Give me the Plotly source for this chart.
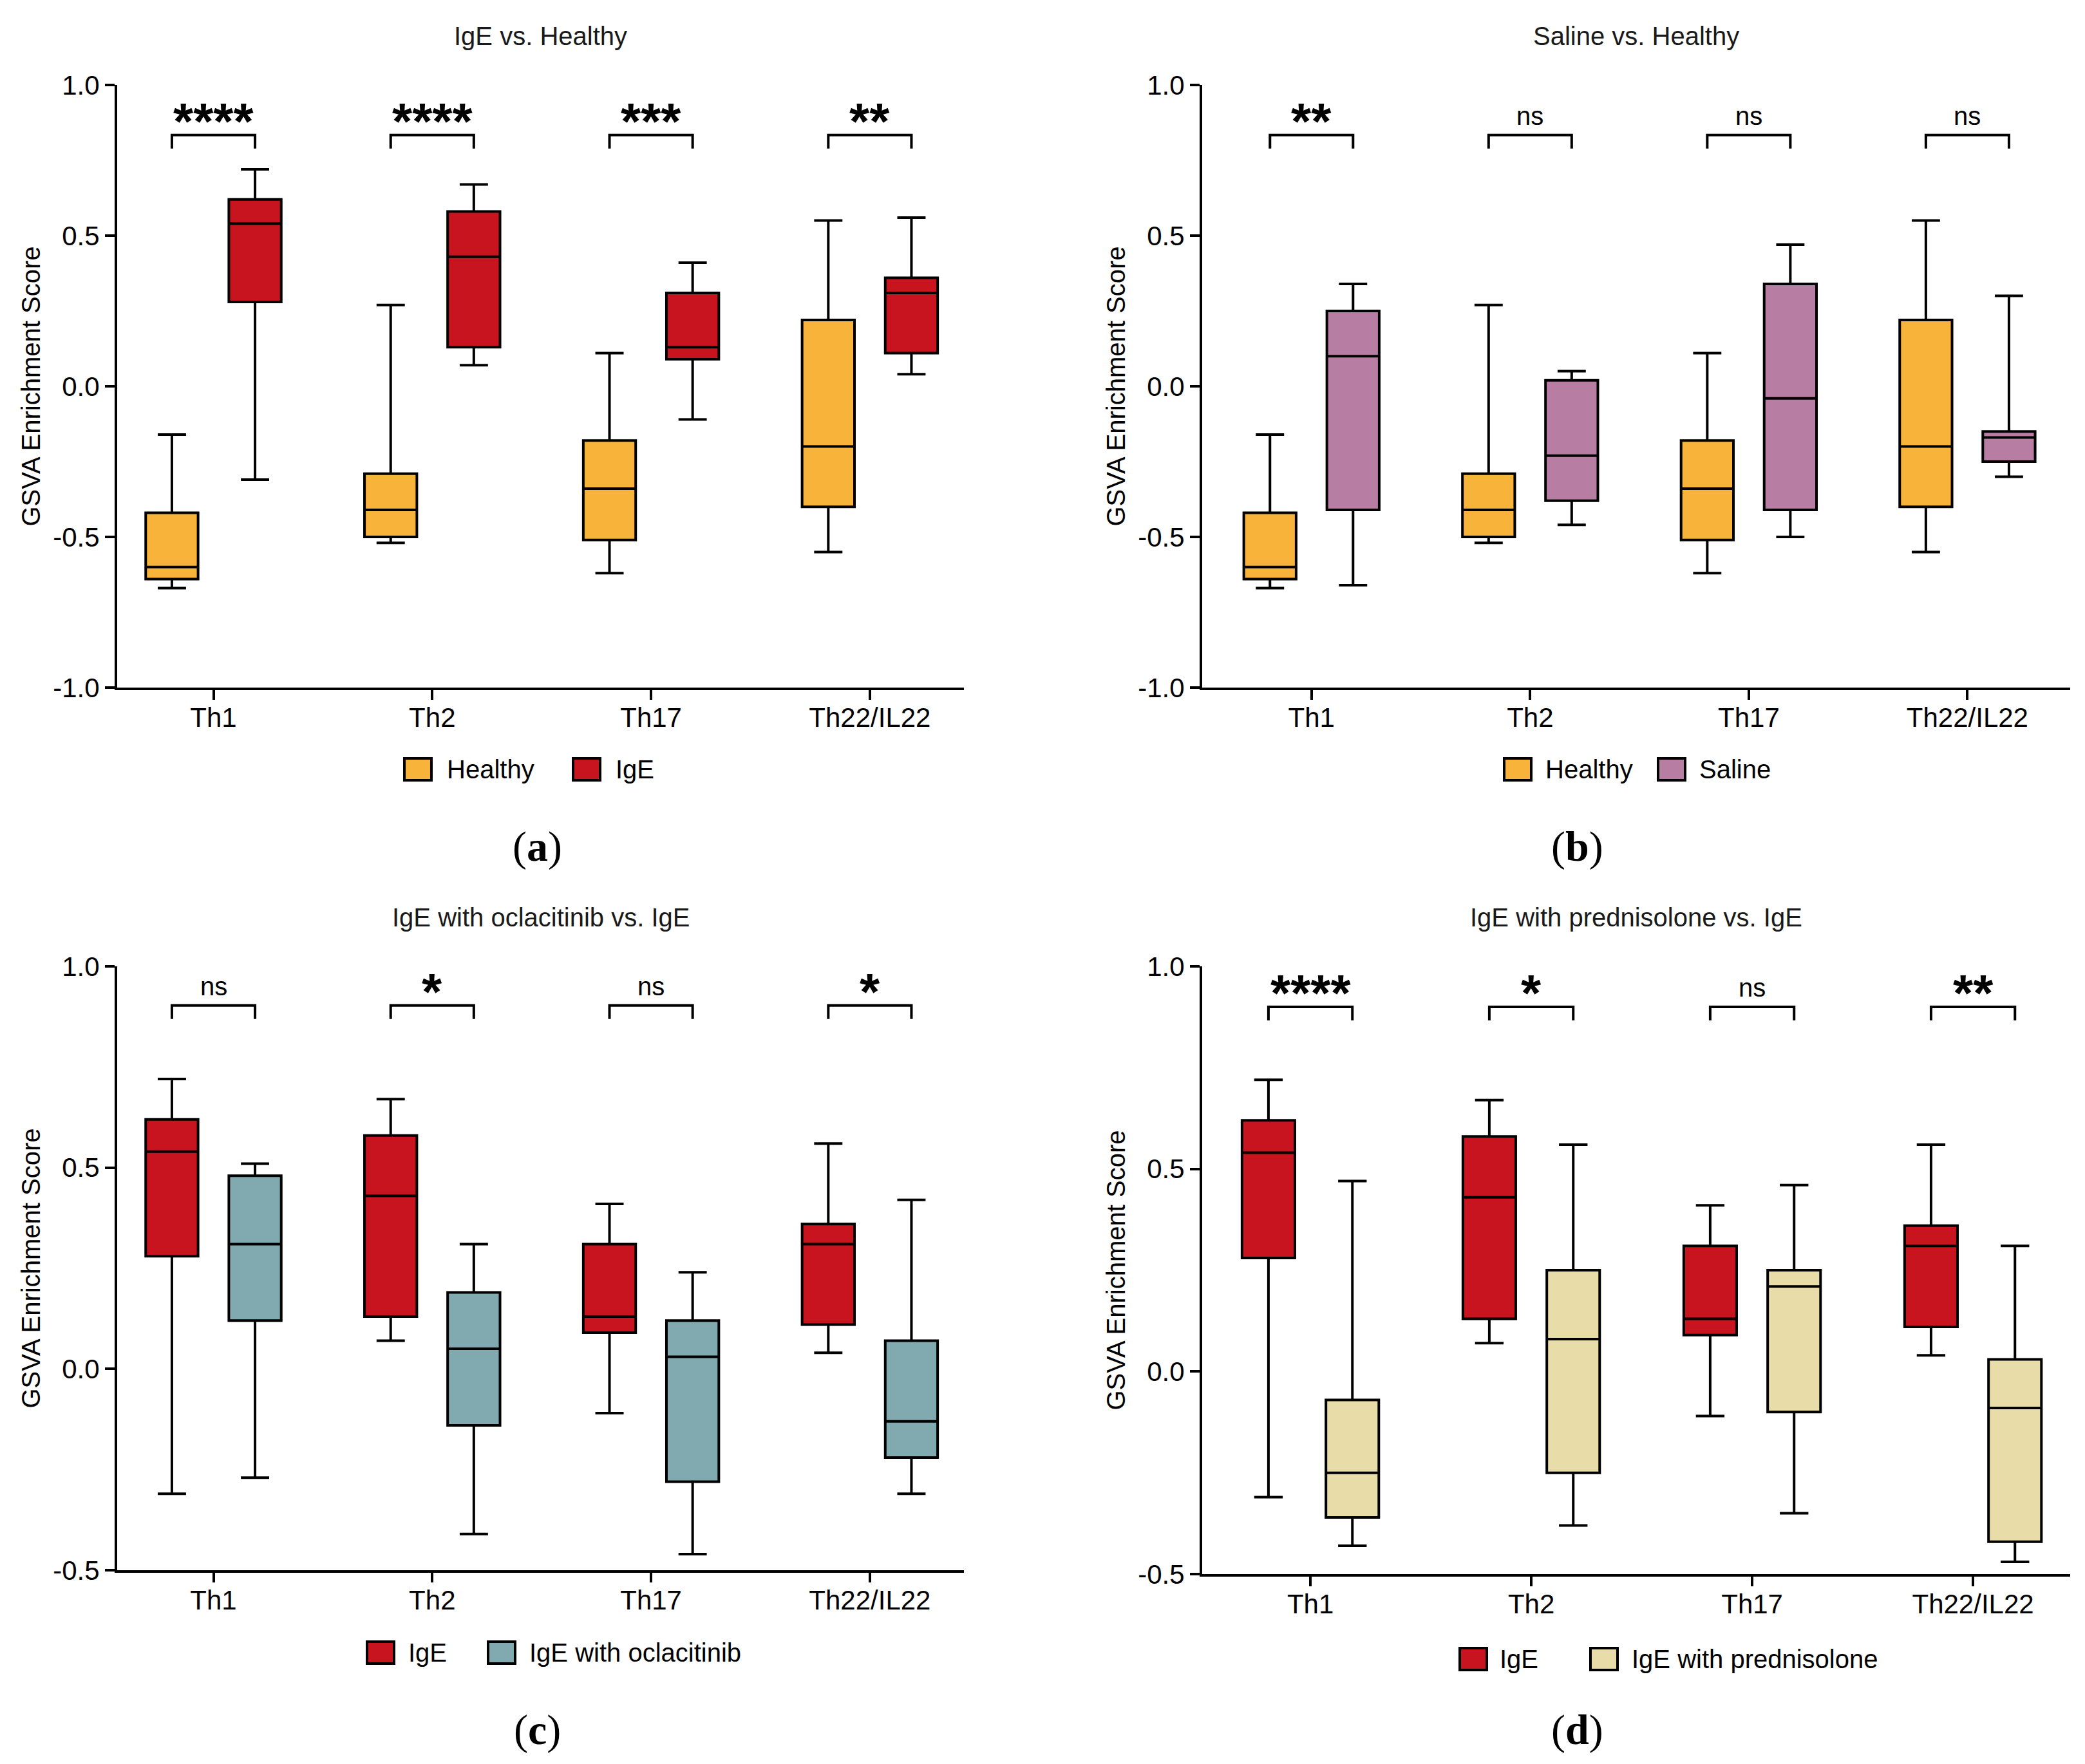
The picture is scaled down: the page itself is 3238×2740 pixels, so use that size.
import plotly.graph_objects as go
from plotly.subplots import make_subplots

W, H = 3238, 2740
PAGE_PAD = 8  # the page body margin shifts the figure by this much

categories = ["Th1", "Th2", "Th17", "Th22/IL22"]
y_ticks_top = [-1.0, -0.5, 0.0, 0.5, 1.0]
y_ticks_bottom = [-0.5, 0.0, 0.5, 1.0]

# box stats: lower whisker, q1, median, q3, upper whisker
healthy_lower = [-0.67, -0.52, -0.62, -0.55]
healthy_q1 = [-0.64, -0.50, -0.51, -0.40]
healthy_median = [-0.60, -0.41, -0.34, -0.20]
healthy_q3 = [-0.42, -0.29, -0.18, 0.22]
healthy_upper = [-0.16, 0.27, 0.11, 0.55]

ige_lower = [-0.31, 0.07, -0.11, 0.04]
ige_q1 = [0.28, 0.13, 0.09, 0.11]
ige_median = [0.54, 0.43, 0.13, 0.31]
ige_q3 = [0.62, 0.58, 0.31, 0.36]
ige_upper = [0.72, 0.67, 0.41, 0.56]

saline_lower = [-0.66, -0.46, -0.50, -0.30]
saline_q1 = [-0.41, -0.38, -0.41, -0.25]
saline_median = [0.10, -0.23, -0.04, -0.17]
saline_q3 = [0.25, 0.02, 0.34, -0.15]
saline_upper = [0.34, 0.05, 0.47, 0.30]

ocla_lower = [-0.27, -0.41, -0.46, -0.31]
ocla_q1 = [0.12, -0.14, -0.28, -0.22]
ocla_median = [0.31, 0.05, 0.03, -0.13]
ocla_q3 = [0.48, 0.19, 0.12, 0.07]
ocla_upper = [0.51, 0.31, 0.24, 0.42]

pred_lower = [-0.43, -0.38, -0.35, -0.47]
pred_q1 = [-0.36, -0.25, -0.10, -0.42]
pred_median = [-0.25, 0.08, 0.21, -0.09]
pred_q3 = [-0.07, 0.25, 0.25, 0.03]
pred_upper = [0.47, 0.56, 0.46, 0.31]

sig_a = ["****", "****", "***", "**"]
sig_b = ["**", "ns", "ns", "ns"]
sig_c = ["ns", "*", "ns", "*"]
sig_d = ["****", "*", "ns", "**"]

FONT = "Liberation Sans"
COLORS = {
    "Healthy": "#F8B43A",
    "IgE": "#C8141F",
    "Saline": "#B87DA2",
    "IgE with oclacitinib": "#80AAB0",
    "IgE with prednisolone": "#E8DCA8",
}

groups = {
    "Healthy": (healthy_lower, healthy_q1, healthy_median, healthy_q3, healthy_upper),
    "IgE": (ige_lower, ige_q1, ige_median, ige_q3, ige_upper),
    "Saline": (saline_lower, saline_q1, saline_median, saline_q3, saline_upper),
    "IgE with oclacitinib": (ocla_lower, ocla_q1, ocla_median, ocla_q3, ocla_upper),
    "IgE with prednisolone": (pred_lower, pred_q1, pred_median, pred_q3, pred_upper),
}


def px_x(x):
    return (x - PAGE_PAD) / W


def px_y(y):
    return 1 - (y - PAGE_PAD) / H


# panel layout in pixels: x0, x1, y_top, y_bottom, x range, y range, title, ...
panels = [
    dict(row=1, col=1, box=(182, 1497, 132, 1068), xr=[-0.44, 3.43], yr=[-1, 1],
         yt=y_ticks_top, title="IgE vs. Healthy", title_y=56, series=["Healthy", "IgE"],
         sig=sig_a, br=0.834, legend=[(628, 692), (890, 954)], leg_y=1195,
         label="a", label_xy=(834, 1315)),
    dict(row=1, col=2, box=(1867, 3215, 132, 1068), xr=[-0.50, 3.47], yr=[-1, 1],
         yt=y_ticks_top, title="Saline vs. Healthy", title_y=56, series=["Healthy", "Saline"],
         sig=sig_b, br=0.834, legend=[(2336, 2398), (2575, 2637)], leg_y=1195,
         label="b", label_xy=(2449, 1315)),
    dict(row=2, col=1, box=(182, 1497, 1501, 2439), xr=[-0.44, 3.43], yr=[-0.5, 1],
         yt=y_ticks_bottom, title="IgE with oclacitinib vs. IgE", title_y=1425,
         series=["IgE", "IgE with oclacitinib"],
         sig=sig_c, br=0.903, legend=[(570, 632), (758, 820)], leg_y=2567,
         label="c", label_xy=(834, 2687)),
    dict(row=2, col=2, box=(1867, 3215, 1501, 2445), xr=[-0.49, 3.44], yr=[-0.5, 1],
         yt=y_ticks_bottom, title="IgE with prednisolone vs. IgE", title_y=1425,
         series=["IgE", "IgE with prednisolone"],
         sig=sig_d, br=0.900, legend=[(2267, 2327), (2470, 2532)], leg_y=2577,
         label="d", label_xy=(2449, 2687)),
]

fig = make_subplots(rows=2, cols=2)

annotations = []
shapes = []
for i, p in enumerate(panels):
    n = "" if i == 0 else str(i + 1)
    xref, yref = "x" + n, "y" + n
    for k, name in enumerate(p["series"]):
        lo, q1, med, q3, up = groups[name]
        fig.add_trace(go.Box(
            x=categories,
            lowerfence=lo, q1=q1, median=med, q3=q3, upperfence=up,
            name=name,
            alignmentgroup=f"panel{i}", offsetgroup=f"panel{i}_{k}",
            fillcolor=COLORS[name],
            line=dict(color="black", width=4),
            whiskerwidth=0.54,
            showlegend=False,
        ), row=p["row"], col=p["col"])

    x0, x1, yt, yb = p["box"]
    ax_common = dict(
        showline=True, linewidth=4, linecolor="black",
        ticks="outside", ticklen=15, tickwidth=4, tickcolor="black",
        showgrid=False, zeroline=False, automargin=False,
        tickfont=dict(family=FONT, size=42, color="black"),
    )
    fig.update_xaxes(domain=[px_x(x0), px_x(x1)], range=p["xr"], row=p["row"], col=p["col"],
                     ticklabelstandoff=-8, **ax_common)
    fig.update_yaxes(domain=[px_y(yb), px_y(yt)], range=p["yr"], row=p["row"], col=p["col"],
                     tickvals=p["yt"], ticktext=[f"{v:.1f}" for v in p["yt"]],
                     title=dict(text="GSVA Enrichment Score", standoff=8,
                                font=dict(family=FONT, size=40, color="black")),
                     **ax_common)

    # subplot title
    annotations.append(dict(
        x=px_x((x0 + x1) / 2), y=px_y(p["title_y"]), xref="paper", yref="paper",
        text=p["title"], showarrow=False, xanchor="center", yanchor="middle",
        font=dict(family=FONT, size=40, color="#1a1a1a"),
    ))

    # significance brackets
    drop = 21 * (p["yr"][1] - p["yr"][0]) / (yb - yt)
    for j, s in enumerate(p["sig"]):
        shapes.append(dict(
            type="path", xref=xref, yref=yref,
            path=f"M {j - 0.19},{p['br'] - drop} L {j - 0.19},{p['br']} "
                 f"L {j + 0.19},{p['br']} L {j + 0.19},{p['br'] - drop}",
            line=dict(color="black", width=4),
        ))
        if s == "ns":
            annotations.append(dict(
                x=j, y=p["br"], xref=xref, yref=yref, text=s, showarrow=False,
                xanchor="center", yanchor="bottom", yshift=6,
                font=dict(family=FONT, size=40, color="black"),
            ))
        else:
            annotations.append(dict(
                x=j, y=p["br"], xref=xref, yref=yref, text=f"<b>{s}</b>", showarrow=False,
                xanchor="center", yanchor="bottom", yshift=-25,
                font=dict(family=FONT, size=80, color="black"),
            ))

    # legend drawn as swatches + text
    for (sx, tx), name in zip(p["legend"], p["series"]):
        ly = p["leg_y"]
        shapes.append(dict(
            type="rect", xref="paper", yref="paper",
            x0=px_x(sx), x1=px_x(sx + 42), y0=px_y(ly + 17), y1=px_y(ly - 17),
            fillcolor=COLORS[name], line=dict(color="black", width=4),
        ))
        annotations.append(dict(
            x=px_x(tx), y=px_y(ly), xref="paper", yref="paper", text=name,
            showarrow=False, xanchor="left", yanchor="middle",
            font=dict(family=FONT, size=40, color="black"),
        ))

    # panel label
    lx, ly = p["label_xy"]
    annotations.append(dict(
        x=px_x(lx), y=px_y(ly), xref="paper", yref="paper",
        text=f"(<b>{p['label']}</b>)", showarrow=False, xanchor="center", yanchor="middle",
        font=dict(family="Liberation Serif", size=66, color="black"),
    ))

fig.update_layout(
    width=W, height=H,
    margin=dict(l=0, r=0, t=0, b=0, autoexpand=False),
    boxmode="group", boxgap=0.24, boxgroupgap=0.37,
    plot_bgcolor="white", paper_bgcolor="white",
    font=dict(family=FONT, color="black"),
    annotations=annotations, shapes=shapes,
    showlegend=False,
)

fig.write_html("out.html")
